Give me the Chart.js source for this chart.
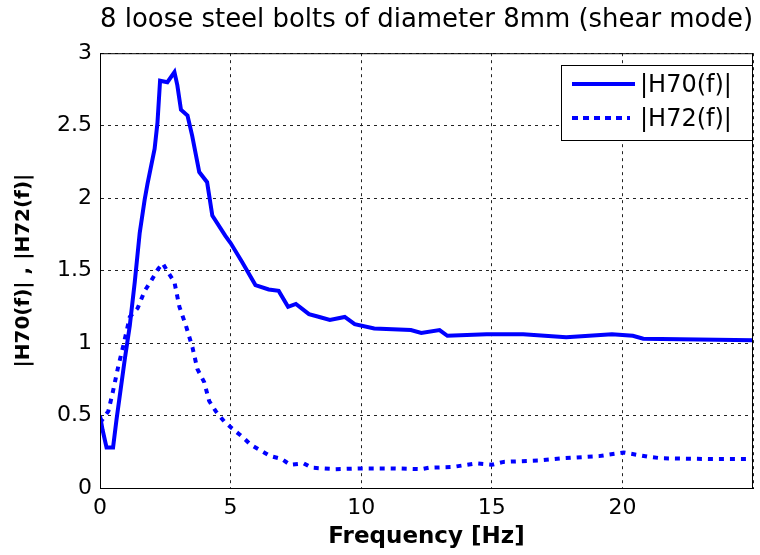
<!DOCTYPE html>
<html>
<head>
<meta charset="utf-8">
<script src="https://cdn.jsdelivr.net/npm/chart.js@4/dist/chart.umd.min.js"></script>
<style>
  html, body { margin: 0; padding: 0; background: #fff; }
  #wrap { width: 760px; height: 555px; }
</style>
</head>
<body>
<div id="wrap"><canvas id="bolts"></canvas></div>
<script>
// values
let h70Freq = [0, 0.1, 0.25, 0.5, 0.63, 0.95, 1.14, 1.33, 1.52, 1.71, 1.82, 2.09, 2.2, 2.3, 2.58, 2.85, 2.96, 3.1, 3.35, 3.53, 3.8, 4.1, 4.3, 4.8, 5.0, 5.44, 5.95, 6.46, 6.84, 7.2, 7.5, 8.0, 8.4, 8.8, 9.37, 9.75, 10.5, 11.9, 12.3, 13.0, 13.3, 14.8, 16.2, 17.85, 19.6, 20.4, 20.8, 25]
let h70Mag = [0.5, 0.4, 0.28, 0.28, 0.47, 0.89, 1.12, 1.42, 1.76, 1.99, 2.1, 2.34, 2.52, 2.81, 2.8, 2.87, 2.78, 2.61, 2.57, 2.43, 2.18, 2.11, 1.88, 1.74, 1.69, 1.56, 1.40, 1.37, 1.36, 1.25, 1.27, 1.20, 1.18, 1.16, 1.18, 1.13, 1.10, 1.09, 1.07, 1.09, 1.05, 1.06, 1.06, 1.04, 1.06, 1.05, 1.03, 1.02]

let h72Freq = [0, 0.32, 0.5, 0.7, 0.89, 1.14, 1.44, 1.71, 1.96, 2.22, 2.4, 2.6, 2.85, 3.04, 3.29, 3.54, 3.73, 3.99, 4.18, 4.43, 4.75, 5.06, 5.44, 5.76, 6.14, 6.52, 6.96, 7.28, 7.8, 8.1, 9.0, 9.9, 11.3, 12.3, 12.6, 13.5, 14.4, 15.0, 15.45, 16.8, 17.7, 19.1, 20.05, 21.0, 21.5, 23.3, 25]
let h72Mag = [0.45, 0.53, 0.67, 0.84, 0.98, 1.18, 1.24, 1.36, 1.43, 1.51, 1.55, 1.49, 1.42, 1.25, 1.12, 0.97, 0.82, 0.73, 0.60, 0.53, 0.46, 0.41, 0.355, 0.30, 0.26, 0.22, 0.20, 0.16, 0.17, 0.14, 0.13, 0.135, 0.135, 0.13, 0.14, 0.145, 0.17, 0.16, 0.18, 0.19, 0.205, 0.22, 0.245, 0.215, 0.205, 0.20, 0.20]

let seriesNames = ['|H70(f)|', '|H72(f)|']
let yTicks = [0, 0.5, 1, 1.5, 2, 2.5, 3]
let xTicks = [0, 5, 10, 15, 20]

let fontName = '"DejaVu Sans", Verdana, sans-serif'
let blue = '#0000ff'

function toPoints(xs, ys) {
  return xs.map(function (x, i) { return { x: x, y: ys[i] } })
}

// black frame round the plot + matlab style legend box
let framePlugin = {
  id: 'frame',
  afterDraw(chart) {
    let ctx = chart.ctx
    let a = chart.chartArea
    ctx.save()
    ctx.strokeStyle = '#000'
    ctx.lineWidth = 1
    ctx.setLineDash([])
    ctx.strokeRect(a.left + 0.5, a.top + 0.5, a.right - a.left - 1, a.bottom - a.top)

    // legend
    let bx = 561, by = 65, bw = 191, bh = 75
    ctx.fillStyle = '#fff'
    ctx.fillRect(bx, by, bw, bh)
    ctx.strokeRect(bx + 0.5, by + 0.5, bw, bh)
    ctx.strokeStyle = blue
    ctx.lineWidth = 4
    ctx.beginPath()
    ctx.moveTo(572, 84); ctx.lineTo(635, 84)
    ctx.stroke()
    ctx.setLineDash([6, 5])
    ctx.beginPath()
    ctx.moveTo(572, 118); ctx.lineTo(630, 118)
    ctx.stroke()
    ctx.setLineDash([])
    ctx.fillStyle = '#000'
    ctx.font = '24px ' + fontName
    ctx.textBaseline = 'middle'
    ctx.fillText(seriesNames[0], 640, 86)
    ctx.fillText(seriesNames[1], 640, 120)
    ctx.restore()
  }
}

new Chart(document.getElementById('bolts'), {
  type: 'scatter',
  data: {
    datasets: [
      {
        label: seriesNames[0],
        data: toPoints(h70Freq, h70Mag),
        showLine: true,
        borderColor: blue,
        borderWidth: 4,
        pointRadius: 0,
        tension: 0
      },
      {
        label: seriesNames[1],
        data: toPoints(h72Freq, h72Mag),
        showLine: true,
        borderColor: blue,
        borderWidth: 4,
        borderDash: [5, 6],
        pointRadius: 0,
        tension: 0
      }
    ]
  },
  options: {
    responsive: true,
    maintainAspectRatio: false,
    animation: false,
    layout: { padding: { right: 2 } },
    plugins: {
      legend: { display: false },
      tooltip: { enabled: false },
      title: {
        display: true,
        fullSize: false,
        text: '8 loose steel bolts of diameter 8mm (shear mode)',
        color: '#000',
        font: { family: fontName, size: 26, weight: 'normal' },
        padding: { top: 5, bottom: 17 }
      }
    },
    scales: {
      x: {
        type: 'linear',
        min: 0,
        max: 25,
        afterBuildTicks: function (scale) {
          scale.ticks = xTicks.concat([25]).map(function (v) { return { value: v } })
        },
        afterFit: function (scale) { scale.height = 67 },
        ticks: {
          color: '#000',
          padding: 7,
          font: { family: fontName, size: 22 },
          callback: function (v) { return xTicks.includes(v) ? String(v) : '' }
        },
        grid: { color: '#222', lineWidth: 1, drawTicks: false },
        border: { display: true, color: '#000', dash: [3, 4] },
        title: {
          display: true,
          text: 'Frequency [Hz]',
          color: '#000',
          font: { family: fontName, size: 23, weight: 'bold' },
          padding: { top: 0 }
        }
      },
      y: {
        min: 0,
        max: 3,
        afterBuildTicks: function (scale) {
          scale.ticks = yTicks.map(function (v) { return { value: v } })
        },
        afterFit: function (scale) { scale.width = 100 },
        ticks: {
          color: '#000',
          padding: 8,
          font: { family: fontName, size: 22 },
          callback: function (v) { return String(v) }
        },
        grid: { color: '#222', lineWidth: 1, drawTicks: false },
        border: { display: true, color: '#000', dash: [3, 4] },
        title: {
          display: true,
          text: '|H70(f)| , |H72(f)|',
          color: '#000',
          font: { family: fontName, size: 20, weight: 'bold' },
          padding: { top: 12, bottom: 4 }
        }
      }
    }
  },
  plugins: [framePlugin]
})
</script>
</body>
</html>
